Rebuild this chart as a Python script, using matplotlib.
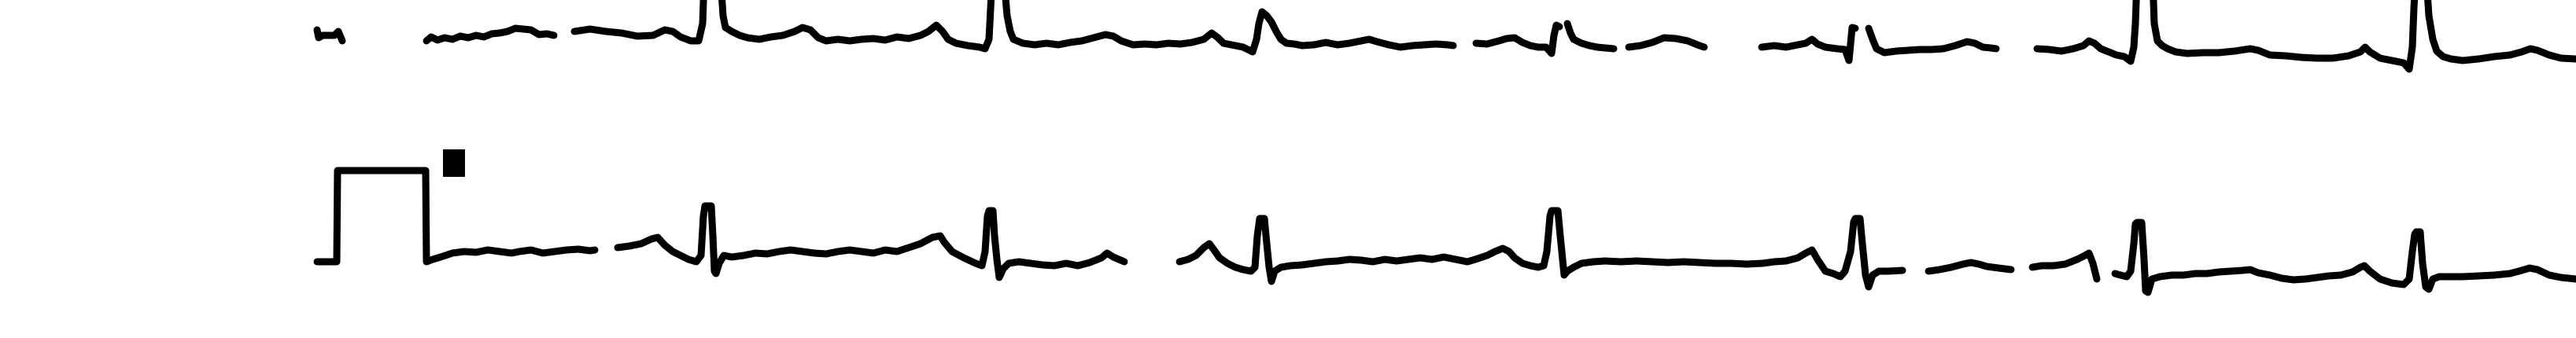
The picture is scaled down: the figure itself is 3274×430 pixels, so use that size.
import numpy as np
import matplotlib
matplotlib.use("Agg")
import matplotlib.pyplot as plt

NaN = np.nan

# Time in samples, amplitude in digitizer counts (relative to the row baseline).
# NaN entries mark gaps (faded ink) in the scanned trace.
row1_t = [403, 405, 410, 425, 430, 435, NaN,
          542, 548, 556, 565, 575, 585, 595, 605, 615, 625, 635, 645, 655, 665, 675, 685, 695, 704, NaN,
          730, 750, 770, 790, 810, 830, 845, 855, 865, 878, 888, 893, 895, 916, 919, 922, 930, 940,
          950, 965, 980, 995, 1010, 1020, 1030, 1040, 1050, 1065, 1080, 1095, 1110, 1125, 1140, 1155, 1170,
          1180, 1190, 1198, 1205, 1215, 1230, 1245, 1252, 1257, 1259, 1261, 1276, 1280, 1284, 1288,
          1300, 1315, 1330, 1345, 1360, 1375, 1390, 1405, 1415, 1425, 1440, 1455, 1470, 1485, 1500, 1515,
          1530, 1540, 1548, 1555, 1565, 1580, 1592, 1597, 1600, 1604, 1610, 1616, 1622, 1628, 1635, 1645,
          1655, 1670, 1685, 1700, 1715, 1730, 1740, 1750, 1765, 1780, 1795, 1810, 1825, 1840, 1847, NaN,
          1876, 1890, 1905, 1915, 1925, 1935, 1945, 1955, 1965, 1972, 1975, 1978, 1982, NaN,
          1992, 1996, 2000, 2010, 2020, 2030, 2040, 2051, NaN,
          2070, 2085, 2100, 2115, 2130, 2145, 2160, 2166, NaN,
          2239, 2255, 2270, 2285, 2295, 2303, 2310, 2320, 2335, 2345, 2350, 2354, 2358, NaN,
          2375, 2380, 2385, 2395, 2410, 2425, 2440, 2455, 2470, 2485, 2500, 2510, 2520, 2530, 2537, NaN,
          2589, 2605, 2620, 2635, 2648, 2655, 2662, 2670, 2680, 2690, 2700, 2708, 2712, 2714, 2716, 2736,
          2738, 2742, 2748, 2755, 2765, 2780, 2800, 2820, 2840, 2860, 2870, 2885, 2905, 2925, 2945,
          2965, 2985, 3000, 3006, 3012, 3025, 3040, 3055, 3062, 3066, 3068, 3070, 3084, 3087, 3092, 3097,
          3105, 3115, 3130, 3150, 3170, 3190, 3205, 3216, 3225, 3240, 3255, 3274]
row1_v = [12, 2, 5, 5, 10, -2, NaN,
          -2, 3, -1, 2, 0, 4, 2, 5, 3, 7, 8, 10, 14, 13, 12, 6, 7, 5, NaN,
          10, 13, 10, 8, 4, 5, 12, 10, 3, -2, -2, 20, 75, 75, 30, 15, 10, 5,
          2, 0, 3, 5, 10, 15, 12, 2, -2, 0, -2, 0, 1, -1, 3, 1, 5,
          10, 18, 10, 0, -5, -8, -10, -12, 0, 40, 75, 75, 30, 10, 0,
          -5, -7, -5, -7, -4, -2, 2, 6, 4, -2, -7, -6, -7, -5, -6, -4,
          0, 8, 2, -5, -7, -10, -16, 0, 20, 35, 30, 22, 10, 0, -5, -6,
          -8, -7, -4, -7, -5, -2, 0, -3, -7, -10, -8, -7, -6, -7, -8, NaN,
          -5, -6, -2, 1, 2, -4, -8, -10, -10, -18, 5, 18, 16, NaN,
          20, 8, 0, -5, -8, -10, -11, -12, NaN,
          -10, -8, -4, 2, 1, -2, -8, -10, NaN,
          -10, -8, -10, -7, -5, 0, -6, -10, -12, -13, -27, 15, 14, NaN,
          14, 0, -12, -17, -15, -14, -13, -13, -12, -8, -3, -5, -10, -11, -12, NaN,
          -12, -13, -15, -12, -8, -2, -5, -12, -16, -20, -22, -28, -10, 20, 75, 75,
          20, -2, -8, -12, -16, -18, -17, -17, -15, -12, -14, -20, -21, -23, -24,
          -24, -21, -16, -10, -16, -24, -27, -30, -38, -10, 40, 75, 75, 30, 0, -15,
          -22, -25, -27, -25, -22, -20, -16, -12, -14, -20, -24, -25]

row2_t = [403, 428, 429, 541, 542, 550, 560, 575, 590, 605, 620, 635, 650, 660, 675, 690, 705, 720, 735, 750, 756, NaN,
          785, 800, 815, 828, 836, 845, 855, 865, 875, 885, 891, 894, 896, 904, 906, 908, 910, 914, 920, 930,
          945, 960, 975, 990, 1005, 1020, 1035, 1050, 1065, 1080, 1095, 1110, 1125, 1140, 1155, 1170, 1185,
          1195, 1200, 1210, 1225, 1240, 1248, 1252, 1255, 1257, 1262, 1264, 1267, 1270, 1275, 1282, 1295, 1310,
          1325, 1340, 1355, 1370, 1385, 1400, 1407, 1415, 1429, NaN,
          1499, 1510, 1520, 1530, 1537, 1543, 1550, 1560, 1570, 1580, 1590, 1595, 1598, 1601, 1607, 1610,
          1613, 1616, 1620, 1628, 1640, 1655, 1670, 1685, 1700, 1715, 1730, 1745, 1760, 1775, 1790, 1805, 1820,
          1835, 1850, 1865, 1875, 1890, 1900, 1910, 1918, 1925, 1935, 1945, 1955, 1962, 1966, 1970, 1972,
          1980, 1983, 1988, 1992, 2000, 2010, 2025, 2040, 2060, 2080, 2100, 2120, 2140, 2160, 2180, 2200,
          2220, 2240, 2255, 2270, 2285, 2295, 2303, 2310, 2320, 2330, 2339, 2345, 2352, 2356, 2358, 2364,
          2367, 2371, 2375, 2380, 2388, 2400, 2418, NaN,
          2451, 2465, 2480, 2495, 2505, 2515, 2525, 2540, 2556, NaN,
          2583, 2595, 2610, 2625, 2640, 2650, 2655, 2660, 2665, NaN,
          2688, 2695, 2703, 2708, 2712, 2714, 2716, 2722, 2725, 2727, 2730, 2735, 2745, 2760, 2775, 2790, 2805,
          2820, 2835, 2850, 2860, 2870, 2885, 2900, 2915, 2930, 2945, 2960, 2975, 2990, 3000, 3005, 3012,
          3025, 3040, 3055, 3062, 3066, 3069, 3071, 3076, 3079, 3083, 3087, 3092, 3100, 3115, 3130, 3150, 3170,
          3190, 3205, 3215, 3225, 3240, 3255, 3274]
row2_v = [-3, -3, 113, 113, -3, 0, 3, 8, 10, 9, 12, 10, 8, 10, 12, 8, 10, 12, 13, 11, 12, NaN,
          15, 17, 20, 26, 28, 18, 10, 5, 0, -3, 5, 55, 68, 68, 30, -15, -18, -5, 5, 3,
          5, 8, 7, 10, 12, 10, 8, 7, 10, 12, 10, 8, 12, 10, 15, 20, 28,
          30, 22, 10, 2, -5, -8, 10, 55, 62, 62, 30, 0, -23, -12, -5, -3, -5,
          -7, -8, -5, -8, -4, 2, 8, 3, -3, NaN,
          -3, 0, 5, 15, 20, 12, 2, -5, -10, -13, -15, -10, 30, 52, 52, 20,
          -10, -28, -15, -10, -8, -7, -5, -3, -2, 0, -1, -3, 0, -2, 0, 2, 0,
          3, 0, -3, 0, 5, 10, 14, 10, 2, -5, -8, -10, -8, 10, 55, 62,
          62, 30, -20, -15, -10, -5, -3, -2, -3, -2, -3, -4, -3, -4, -5, -5,
          -6, -5, -3, -2, 2, 8, 12, 0, -15, -18, -22, -15, 10, 48, 52, 52,
          20, -20, -35, -20, -15, -15, -14, NaN,
          -15, -13, -10, -6, -4, -6, -9, -11, -13, NaN,
          -10, -8, -8, -6, 0, 5, 8, -5, -25, NaN,
          -18, -20, -22, -15, 20, 45, 47, 47, 0, -40, -42, -25, -22, -20, -20, -18, -18,
          -16, -15, -14, -13, -17, -20, -24, -26, -25, -23, -21, -20, -16, -10, -8, -15,
          -25, -30, -32, -25, 10, 32, 35, 35, -5, -35, -38, -25, -22, -22, -22, -21, -20,
          -18, -14, -11, -13, -20, -23, -25]

# event marker printed next to the calibration pulse (row 2)
marker_t = [577, 577]
marker_v = [140, 105]

assert len(row1_t) == len(row1_v) and len(row2_t) == len(row2_v)

W, H, DPI = 3274, 430, 100
fig = plt.figure(figsize=(W / DPI, H / DPI), dpi=DPI, facecolor="white")

lw = 9 * 72 / DPI  # trace thickness

ax1 = fig.add_axes([0, 0, 1, 1])
ax1.plot(row1_t, row1_v, color="black", lw=lw, solid_joinstyle="round", solid_capstyle="round")
ax1.set_xlim(0, W)
ax1.set_ylim(-380, 50)
ax1.axis("off")

ax2 = fig.add_axes([0, 0, 1, 1])
ax2.patch.set_alpha(0)
ax2.plot(row2_t, row2_v, color="black", lw=lw, solid_joinstyle="round", solid_capstyle="round")
ax2.plot(marker_t, marker_v, color="black", lw=28 * 72 / DPI, solid_capstyle="butt")
ax2.set_xlim(0, W)
ax2.set_ylim(-100, 330)
ax2.axis("off")

fig.savefig("out.png", dpi=DPI, facecolor="white")
